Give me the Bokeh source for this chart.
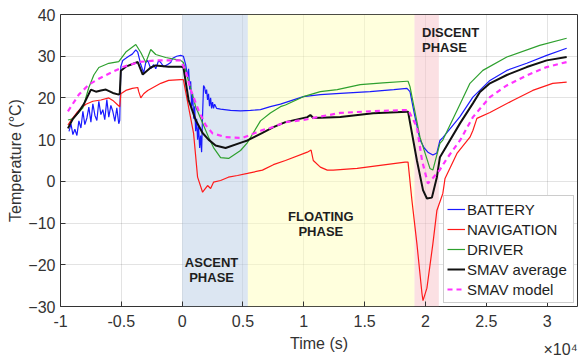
from bokeh.plotting import figure
from bokeh.models import (Range1d, FixedTicker, Legend, LegendItem, Label, Title)
from bokeh.embed import file_html
from bokeh.resources import INLINE

# ---------------- data (time in seconds, temperature in °C) ----------------
bat_t = [-9300, -9140, -8980, -8820, -8650, -8490, -8320, -8160, -8000, -7830, -7670, -7500, -7340, -7170,
         -7010, -6850, -6680, -6520, -6360, -6190, -6030, -5860, -5700, -5530, -5370, -5210, -5130, -5040,
         -4880, -4630, -4390, -4100, -3810, -3650, -3400, -3160, -2990, -2830, -2580, -2340, -2170, -1930,
         -1760, -1520, -1190, -940, -780, -450, -120, 100, 290, 450, 530, 620, 700, 780, 860, 950, 1030,
         1110, 1190, 1270, 1350, 1440, 1520, 1600, 1680, 1760, 1850, 1930, 2010, 2090, 2170, 2250, 2340,
         2420, 2500, 2580, 2670, 2830, 3160, 3980, 4800, 5620, 6440, 7250, 8080, 8900, 9960, 11360, 13000,
         15450, 17400, 18480, 18730, 19100, 19550, 19900, 20200, 20610, 20940, 21190, 21430, 22590, 22840,
         23900, 25300, 26690, 28330, 29970, 31610]
bat_y = [12.0, 13.8, 11.2, 12.5, 11.0, 14.5, 12.8, 16.8, 13.6, 15.2, 17.8, 14.2, 18.6, 15.8,
         14.6, 19.2, 16.0, 17.2, 14.8, 19.6, 15.4, 18.2, 16.8, 14.4, 17.6, 13.8, 14.6, 27.5,
         29.0, 29.5, 30.0, 30.5, 31.5, 31.0, 28.0, 26.0, 28.5, 29.0, 27.0, 28.0, 27.0, 29.0,
         28.5, 27.5, 28.0, 28.5, 29.5, 30.0, 30.2, 30.0, 28.0, 25.0, 27.0, 22.0, 24.0, 18.0, 21.0, 15.0, 18.0,
         12.0, 15.0, 10.0, 13.0, 8.0, 11.0, 7.0, 16.0, 23.0, 22.5, 21.0, 22.0, 19.5, 21.0, 18.0, 20.0,
         17.5, 19.0, 17.5, 18.5, 17.5, 17.3, 17.0, 16.9, 17.0, 17.2, 17.9, 18.5, 19.3, 20.3, 20.8, 21.1,
         21.5, 22.0, 22.3, 21.5, 16.0, 10.0, 8.0, 7.0, 6.3, 6.8, 9.8, 10.5, 14.6, 15.5,
         20.2, 24.2, 26.6, 28.3, 30.2, 31.9]

nav_t = [-9390, -9140, -8650, -8320, -7910, -7340, -6680, -6030, -5700, -5290, -5130, -5040, -4630, -4100,
         -3650, -3570, -3400, -3160, -2830, -1760, -1110, -120, 100, 940, 1270, 1680, 2090, 2340, 2580, 3160,
         3800, 4550, 5370, 6600, 7500, 8490, 10290, 10600, 10780, 11360, 11930, 12420, 14390, 18320, 18570,
         18890, 19300, 19720, 19800, 20120, 20610, 20940, 21430, 21610, 22590, 23660, 23900, 24230, 25300,
         27180, 28820, 30460, 31610]
nav_y = [13.5, 14.6, 16.5, 17.5, 18.5, 19.2, 19.5, 20.0, 19.4, 18.3, 17.9, 21.0, 21.8, 22.3,
         22.5, 21.5, 20.0, 21.0, 21.8, 23.5, 24.2, 24.4, 24.4, 11.5, 1.0, -2.6, -1.0, -1.7, -0.2, 0.2,
         1.0, 1.4, 1.9, 2.7, 4.0, 5.0, 7.0, 7.5, 5.0, 3.4, 2.7, 2.7, 3.1, 4.6, 4.6,
         -4.6, -15.0, -27.0, -28.6, -25.6, -15.0, -7.0, -2.9, 0.7, 6.7, 10.6, 12.2, 15.1, 16.5,
         19.4, 21.8, 23.5, 23.8]

drv_t = [-9390, -8980, -8160, -7670, -7260, -6850, -6030, -5210, -4630, -3810, -3400, -2990, -2580, -2170,
         -1350, -450, -120, 100, 1110, 1680, 2170, 2580, 3160, 3820, 4800, 5370, 6440, 7250, 8080, 8490,
         9960, 11360, 12750, 14640, 16500, 18480, 18570, 18730, 19550, 20370, 20610, 21190, 21430, 22840,
         23660, 24720, 26690, 29390, 31610]
drv_y = [14.7, 15.0, 17.6, 22.5, 25.5, 27.3, 28.3, 28.7, 31.0, 32.8, 30.9, 28.5, 31.6, 30.4,
         29.7, 29.2, 29.0, 28.5, 17.9, 14.0, 10.6, 8.1, 5.7, 5.5, 7.4, 9.3, 14.5, 16.4, 17.9, 18.3,
         20.3, 21.5, 22.0, 23.2, 23.6, 24.0, 24.0, 22.7, 10.6, 3.1, 2.7, 9.1, 9.9, 18.5,
         23.5, 26.6, 29.8, 32.6, 34.3]

avg_t = [-9390, -8980, -8570, -8080, -7500, -7090, -6680, -6270, -5700, -5210, -5130, -5040, -4630, -3650,
         -3240, -2580, -2170, -1110, -120, 100, 530, 1110, 1680, 2170, 2750, 3570, 4960, 5370, 6600, 7500,
         8490, 10290, 10540, 10780, 13000, 15700, 18480, 18570, 19300, 19800, 20120, 20530, 20940, 21190,
         22840, 23900, 24480, 25300, 26690, 28330, 29970, 31610]
avg_y = [12.7, 15.0, 16.4, 18.5, 22.0, 21.5, 21.8, 22.0, 21.2, 20.8, 21.0, 26.5, 27.5, 28.6,
         25.6, 27.3, 27.8, 27.5, 27.5, 27.4, 19.5, 14.7, 11.6, 10.0, 8.6, 8.0, 9.4, 9.8, 11.6, 13.0,
         14.2, 15.4, 15.9, 15.2, 15.4, 16.3, 16.7, 16.7, 5.0, -2.1, -4.1, -3.9, 1.0, 5.8,
         13.9, 18.7, 21.4, 23.5, 25.5, 27.4, 29.0, 29.8]

mod_t = [-9390, -8490, -7670, -6850, -6030, -4880, -3570, -2170, -120, 290, 700, 1350, 1930, 2500, 3570,
         4960, 6600, 7250, 8490, 9960, 11110, 13000, 15450, 18480, 18570, 19300, 19720, 20200, 20610, 21190,
         21770, 22840, 23900, 25300, 26690, 28330, 29970, 31610]
mod_y = [16.8, 20.8, 23.2, 24.6, 25.8, 27.4, 28.6, 29.0, 29.0, 26.5, 22.0, 17.0, 13.5, 11.5, 10.6,
         10.4, 12.3, 12.8, 14.2, 14.7, 15.4, 16.4, 16.8, 17.1, 17.2, 13.0, 5.0, -0.5, 0.8, 2.8,
         5.5, 9.8, 15.4, 20.2, 23.0, 25.4, 27.4, 28.6]

phase_start = [0, 5400, 19100]
phase_end = [5400, 19100, 21100]
phase_colors = ["#b9cde6", "#ffffbb", "#f7c1c8"]

x_ticks = [-10000, -5000, 0, 5000, 10000, 15000, 20000, 25000, 30000]
x_tick_labels = ["-1", "-0.5", "0", "0.5", "1", "1.5", "2", "2.5", "3"]
y_ticks = [-30, -20, -10, 0, 10, 20, 30, 40]

series_names = ["BATTERY", "NAVIGATION", "DRIVER", "SMAV average", "SMAV model"]

# ---------------- figure ----------------
FONT = "Liberation Sans"
p = figure(width=578, height=358, output_backend="svg", toolbar_location=None,
           x_range=Range1d(-10000, 32500), y_range=Range1d(-30, 40),
           min_border_left=60, min_border_right=1, min_border_top=14, min_border_bottom=52)
p.background_fill_color = "white"
p.border_fill_color = "white"
p.outline_line_color = "#333333"
p.outline_line_width = 1

# phases (drawn first so they sit below the curves)
p.quad(left=phase_start, right=phase_end, bottom=-30, top=40,
       fill_color=phase_colors, fill_alpha=0.5, line_color=None)

# grid
for g in (p.xgrid, p.ygrid):
    g.grid_line_color = "#262626"
    g.grid_line_alpha = 0.13
p.xgrid.ticker = FixedTicker(ticks=x_ticks)
p.ygrid.ticker = FixedTicker(ticks=y_ticks)

# axes
p.xaxis.ticker = FixedTicker(ticks=x_ticks)
p.xaxis.major_label_overrides = {t: l for t, l in zip(x_ticks, x_tick_labels)}
p.yaxis.ticker = FixedTicker(ticks=y_ticks)
for ax in (p.xaxis, p.yaxis):
    ax.axis_line_color = None
    ax.major_tick_in = 5
    ax.major_tick_out = 0
    ax.major_tick_line_color = "#333333"
    ax.minor_tick_line_color = None
    ax.major_label_text_font = FONT
    ax.major_label_text_font_size = "16px"
    ax.major_label_text_color = "#333333"
    ax.axis_label_text_font = FONT
    ax.axis_label_text_font_size = "16px"
    ax.axis_label_text_font_style = "normal"
    ax.axis_label_text_color = "#333333"
p.xaxis.axis_label = "Time (s)"
p.yaxis.axis_label = "Temperature (°C)"
p.xaxis.major_label_standoff = 8
p.xaxis.axis_label_standoff = 5
p.yaxis.major_label_standoff = 5
p.yaxis.axis_label_standoff = 1

# curves
r_bat = p.line(bat_t, bat_y, line_color="#1a1aff", line_width=1.2)
r_nav = p.line(nav_t, nav_y, line_color="#ff1a1a", line_width=1.2)
r_drv = p.line(drv_t, drv_y, line_color="#2ea02e", line_width=1.2)
r_avg = p.line(avg_t, avg_y, line_color="#111111", line_width=2)
r_mod = p.line(mod_t, mod_y, line_color="#ff33ff", line_width=2.2, line_dash="5 4")

# phase texts
def add_text(x, y, txt, align):
    p.add_layout(Label(x=x, y=y, text=txt, text_font=FONT, text_font_size="13px",
                       text_font_style="bold", text_color="#1e1e1e",
                       text_align=align, text_baseline="middle"))

add_text(2420, -19.4, "ASCENT", "center")
add_text(2420, -23.0, "PHASE", "center")
add_text(11400, -8.4, "FLOATING", "center")
add_text(11400, -12.0, "PHASE", "center")
add_text(19720, 35.8, "DISCENT", "left")
add_text(19720, 32.2, "PHASE", "left")

# x10^4 multiplier at the bottom right (negative standoff keeps its panel from taking space)
p.add_layout(Title(text="×10⁴", align="right", vertical_align="top", offset=0, standoff=-27,
                   text_font=FONT, text_font_size="16px", text_font_style="normal",
                   text_color="#333333"), "below")

# legend
items = [LegendItem(label=n, renderers=[r]) for n, r in
         zip(series_names, [r_bat, r_nav, r_drv, r_avg, r_mod])]
legend = Legend(items=items, location=(383, 3))
legend.label_text_font = FONT
legend.label_text_font_size = "15px"
legend.label_text_color = "#1e1e1e"
legend.label_height = 20
legend.label_width = 103
legend.glyph_height = 20
legend.glyph_width = 18
legend.label_standoff = 2
legend.spacing = 0
legend.padding = 3
legend.margin = 0
legend.border_line_color = "#999999"
legend.background_fill_color = "white"
legend.background_fill_alpha = 1.0
p.add_layout(legend)

open("out.html", "w").write(file_html(p, INLINE))
